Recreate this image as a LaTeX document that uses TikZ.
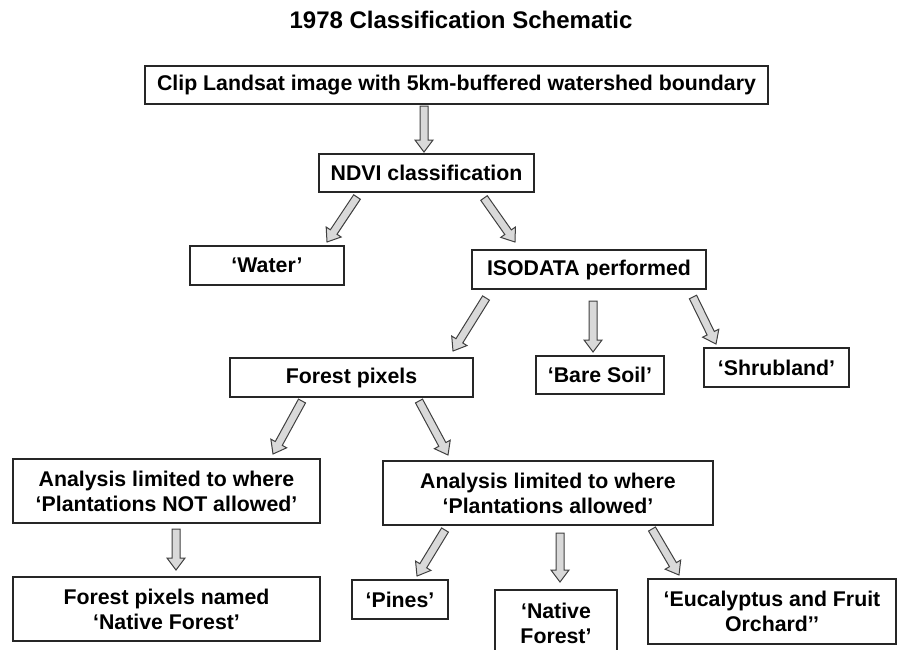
\documentclass[tikz,border=0pt]{standalone}
\usepackage{fontspec}
\setmainfont{Liberation Sans}
\usetikzlibrary{calc}
\tikzset{
  box/.style={draw=black!85, line width=2pt, fill=white, align=center, inner sep=0pt,
    font=\bfseries\fontsize{21.3}{25}\selectfont},
  barrowst/.style={fill=gray!30, draw=black!75, line width=1pt, line join=miter},
}
\newcommand{\barrow}[2]{%
  \draw[barrowst] let \p1=(#1), \p2=(#2),
    \n1={atan2(\y2-\y1,\x2-\x1)}, \n2={veclen(\x2-\x1,\y2-\y1)-12} in
    ($(\p1)+(\n1+90:4pt)$) -- ($(\p1)+(\n1:\n2)+(\n1+90:4pt)$)
    -- ($(\p1)+(\n1:\n2)+(\n1+90:9pt)$) -- (\p2)
    -- ($(\p1)+(\n1:\n2)+(\n1-90:9pt)$) -- ($(\p1)+(\n1:\n2)+(\n1-90:4pt)$)
    -- ($(\p1)+(\n1-90:4pt)$) -- cycle;}
\begin{document}
\begin{tikzpicture}[x=1pt,y=-1pt]
\useasboundingbox (0,0) rectangle (897,649);
\node[font=\bfseries\fontsize{24}{28}\selectfont, anchor=base, inner sep=0pt] (title) at (461,28) {1978 Classification Schematic};

\node[box, minimum width=623, minimum height=38] (top) at (456.5,85) {Clip Landsat image with 5km-buffered watershed boundary};
\node[box, minimum width=215, minimum height=38] (ndvi) at (426.5,173) {NDVI classification};
\node[box, minimum width=154, minimum height=39] (water) at (267,265.5) {‘Water’};
\node[box, minimum width=234, minimum height=39] (iso) at (589,269.5) {ISODATA performed};
\node[box, minimum width=243, minimum height=39] (forest) at (351.5,377.5) {Forest pixels};
\node[box, minimum width=128, minimum height=38] (bare) at (600,375) {‘Bare Soil’};
\node[box, minimum width=145, minimum height=39] (shrub) at (776.5,367.5) {‘Shrubland’};
\node[box, minimum width=307, minimum height=64] (notall) at (166.5,491) {Analysis limited to where\\‘Plantations NOT allowed’};
\node[box, minimum width=330, minimum height=64] (allowed) at (548,493) {Analysis limited to where\\‘Plantations allowed’};
\node[box, minimum width=307, minimum height=64] (named) at (166.5,609) {Forest pixels named\\‘Native Forest’};
\node[box, minimum width=96, minimum height=39] (pines) at (400,599.5) {‘Pines’};
\node[box, minimum width=122, anchor=north, inner ysep=13pt, text depth=40pt] (native) at (556,589) {‘Native\\Forest’};
\node[box, minimum width=248, minimum height=65] (eucal) at (772,611.5) {‘Eucalyptus and Fruit\\Orchard’’};

\barrow{$(top.south)+(-32.5,1)$}{$(ndvi.north)+(-2.5,-1)$}
\barrow{$(ndvi.south)+(-69.5,4)$}{$(water.north)+(60,-3)$}
\barrow{$(ndvi.south)+(57.5,5)$}{$(iso.north)+(-74,-7)$}
\barrow{$(iso.south)+(-103,8)$}{$(forest.north)+(101.5,-6)$}
\barrow{$(iso.south)+(4,11)$}{$(bare.north)+(-7,-3)$}
\barrow{$(iso.south)+(104,7)$}{$(shrub.north)+(-60.5,-3)$}
\barrow{$(forest.south)+(-49.5,3)$}{$(notall.north)+(106.5,-4)$}
\barrow{$(forest.south)+(67.5,3)$}{$(allowed.north)+(-100,-5)$}
\barrow{$(notall.south)+(9.5,5)$}{$(named.north)+(9.5,-6)$}
\barrow{$(allowed.south)+(-103,4)$}{$(pines.north)+(17,-3)$}
\barrow{$(allowed.south)+(12,7)$}{$(native.north)+(4,-7)$}
\barrow{$(allowed.south)+(104,3)$}{$(eucal.north)+(-93,-3)$}
\end{tikzpicture}
\end{document}
